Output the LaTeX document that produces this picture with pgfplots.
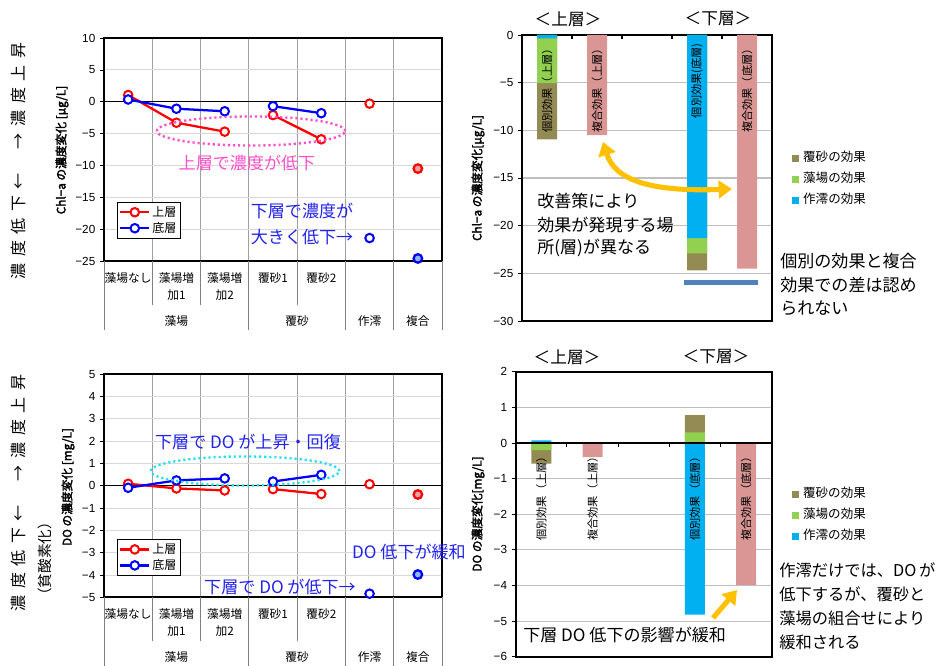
\documentclass[border=0pt]{standalone}
\usepackage{fontspec}
\setmainfont{Noto Sans CJK JP}
\newfontfamily\numfont{Liberation Sans}
\newfontfamily\ylabfont{Noto Sans CJK JP}[FakeBold=2.5]
\usepackage{pgfplots}
\pgfplotsset{compat=1.18}
\usetikzlibrary{arrows.meta}

\definecolor{sand}{HTML}{948A54}
\definecolor{leaf}{HTML}{92D050}
\definecolor{sky}{HTML}{00B0F0}
\definecolor{rose}{HTML}{D99694}
\definecolor{steel}{HTML}{4F81BD}
\definecolor{gold}{HTML}{FFC000}
\definecolor{magtext}{HTML}{FF4FC8}
\definecolor{bluetext}{HTML}{2222EE}
\definecolor{cyandot}{HTML}{22E0F0}
\definecolor{hgrid}{HTML}{D9D9D9}
\definecolor{vgrid}{HTML}{A0A0A0}
\definecolor{bgrid}{HTML}{BFBFBF}
\definecolor{lred}{HTML}{E6A3A3}
\definecolor{lblue}{HTML}{8DB8F0}

\newcommand\annf{\fontsize{12.8}{15}\selectfont}
\newcommand\annfs{\fontsize{12.2}{14}\selectfont}
\newcommand\ylf{\ylabfont\fontsize{8.8}{10.5}\selectfont}
\tikzset{catl/.style={font=\fontsize{8.8}{10}\selectfont, inner sep=0pt},
  barl/.style={rotate=90, anchor=east, font=\fontsize{8.4}{10}\selectfont, inner sep=0pt}}

\pgfplotsset{
  linepanel/.style={
    scale only axis, width=253.5pt, height=167.25pt, clip=false,
    xmin=-0.5, xmax=6.5,
    xtick={0.5,1.5,2.5,3.5,4.5,5.5}, xticklabels={}, xmajorgrids,
    major x grid style={vgrid, line width=0.6pt},
    ymajorgrids, major y grid style={hgrid, line width=0.6pt},
    xtick style={draw=none},
    ytick pos=left, tick align=outside, major tick length=3pt,
    ytick style={black, line width=0.5pt},
    axis line style={line width=1.3pt},
    yticklabel style={font=\numfont\fontsize{8.8}{10}\selectfont},
    legend style={at={(0.038,0.265)}, anchor=north west, draw=black, line width=0.6pt,
      font=\fontsize{9}{10.8}\selectfont, inner sep=1.5pt, nodes={inner sep=1.5pt}},
    legend cell align=left,
    legend image code/.code={\draw[mark repeat=2,mark phase=2] plot coordinates {(0cm,0cm) (0.38cm,0cm) (0.76cm,0cm)};},
  },
  upper/.style={red, line width=1.7pt, mark=*, mark size=3.2pt, mark options={fill=white, line width=1.5pt, solid}},
  lower/.style={blue, line width=1.7pt, mark=*, mark size=3.2pt, mark options={fill=white, line width=1.5pt, solid}},
  barpanel/.style={
    scale only axis, clip=false,
    xmin=-0.5, xmax=4.5, xtick=\empty,
    ymajorgrids, major y grid style={bgrid, line width=0.8pt},
    ytick pos=left, tick align=outside, major tick length=3pt,
    ytick style={black, line width=0.6pt},
    axis line style={line width=1.3pt},
    yticklabel style={font=\numfont\fontsize{8.8}{10}\selectfont},
    ybar, bar width=15pt,
    legend style={anchor=north west, draw=none, fill=none, font=\fontsize{9.4}{11}\selectfont,
      inner sep=0pt, row sep=6.75pt, column sep=3pt,
      nodes={inner sep=0pt, text height=7pt, text depth=2pt}},
    legend cell align=left,
    legend image code/.code={\fill[#1] (0pt,-2.6pt) rectangle (5.2pt,2.6pt);},
  },
}

\newcommand\catgrid{%
  \pgfplotsinvokeforeach{0.142857,0.285714,0.571429}{\draw[black!50, line width=0.6pt] (rel axis cs:##1,0) -- ++(0pt,-33pt);}
  \pgfplotsinvokeforeach{0,0.428571,0.714286,0.857143,1}{\draw[black!50, line width=0.6pt] (rel axis cs:##1,0) -- ++(0pt,-51.75pt);}
}
\newcommand\catlabels{%
  \node[catl, yshift=-12.75pt] at (rel axis cs:0.071429,0) {藻場なし};
  \node[catl, yshift=-12.75pt] at (rel axis cs:0.214286,0) {藻場増};
  \node[catl, yshift=-25.5pt] at (rel axis cs:0.214286,0) {加1};
  \node[catl, yshift=-12.75pt] at (rel axis cs:0.357143,0) {藻場増};
  \node[catl, yshift=-25.5pt] at (rel axis cs:0.357143,0) {加2};
  \node[catl, yshift=-12.75pt] at (rel axis cs:0.5,0) {覆砂1};
  \node[catl, yshift=-12.75pt] at (rel axis cs:0.642857,0) {覆砂2};
  \node[catl, yshift=-45pt] at (rel axis cs:0.214286,0) {藻場};
  \node[catl, yshift=-45pt] at (rel axis cs:0.571429,0) {覆砂};
  \node[catl, yshift=-45pt] at (rel axis cs:0.785714,0) {作澪};
  \node[catl, yshift=-45pt] at (rel axis cs:0.928571,0) {複合};
}

\begin{document}
\begin{tikzpicture}
\path[use as bounding box] (0pt,0pt) rectangle (705pt,-499.5pt);

% ---------------- Panel 1: Chl-a line chart ----------------
\begin{axis}[linepanel, at={(78pt,-28.5pt)}, anchor=north west,
  ymin=-25, ymax=10, ytick={-25,-20,-15,-10,-5,0,5,10},
  yticklabels={−25,−20,−15,−10,−5,0,5,10}]
  \draw[black, line width=0.75pt] (axis cs:-0.5,0) -- (axis cs:6.5,0);
  \catgrid
  \addplot[upper, unbounded coords=jump] coordinates {(0,1.05) (1,-3.3) (2,-4.7) (2.5,nan) (3,-2.1) (4,-5.9)};
  \addlegendentry{上層}
  \addplot[lower, unbounded coords=jump] coordinates {(0,0.35) (1,-1.1) (2,-1.5) (2.5,nan) (3,-0.7) (4,-1.8)};
  \addlegendentry{底層}
  \addplot[upper, only marks, forget plot] coordinates {(5,-0.3)};
  \addplot[upper, only marks, forget plot, mark options={fill=lred}] coordinates {(6,-10.5)};
  \addplot[lower, only marks, forget plot] coordinates {(5,-21.4)};
  \addplot[lower, only marks, forget plot, mark options={fill=lblue}] coordinates {(6,-24.6)};
  \catlabels
\end{axis}

% ---------------- Panel 2: Chl-a bars ----------------
\begin{axis}[barpanel, at={(391.5pt,-26.25pt)}, anchor=north west,
  width=187.5pt, height=214.5pt,
  ymin=-30, ymax=0, ytick={-30,-25,-20,-15,-10,-5,0},
  yticklabels={−30,−25,−20,−15,−10,−5,0},
  legend style={at={(1.08,0.591)}}]
  \addplot[fill=sand, draw=none, bar shift=0pt] coordinates {(0,-10.95) (3,-24.7)};
  \addlegendentry{覆砂の効果}
  \addplot[fill=leaf, draw=none, bar shift=0pt] coordinates {(0,-5.05) (3,-22.9)};
  \addlegendentry{藻場の効果}
  \addplot[fill=sky, draw=none, bar shift=0pt] coordinates {(0,-0.35) (3,-21.3)};
  \addlegendentry{作澪の効果}
  \addplot[fill=rose, draw=none, bar shift=0pt, forget plot] coordinates {(1,-10.5) (4,-24.5)};
  \pgfplotsinvokeforeach{0.5,1.5,2.5,3.5}{\draw[black, line width=0.8pt] (axis cs:#1,0) -- ++(0pt,-3pt);}
  \node[barl] at (axis cs:0,-0.85) {個別効果（上層）};
  \node[barl] at (axis cs:1,-0.85) {複合効果（上層）};
  \node[barl] at (axis cs:3,-0.85) {個別効果(底層)};
  \node[barl] at (axis cs:4,-0.85) {複合効果（底層）};
  \fill[steel] (axis cs:2.74,-25.75) rectangle (axis cs:4.22,-26.22);
\end{axis}

% ---------------- Panel 3: DO line chart ----------------
\begin{axis}[linepanel, at={(78pt,-280.7pt)}, anchor=north west,
  ymin=-5, ymax=5, ytick={-5,-4,-3,-2,-1,0,1,2,3,4,5},
  yticklabels={−5,−4,−3,−2,−1,0,1,2,3,4,5},
  legend style={at={(0.038,0.261)}}]
  \draw[black, line width=0.75pt] (axis cs:-0.5,0) -- (axis cs:6.5,0);
  \catgrid
  \addplot[upper, unbounded coords=jump] coordinates {(0,0.09) (1,-0.12) (2,-0.21) (2.5,nan) (3,-0.15) (4,-0.37)};
  \addlegendentry{上層}
  \addplot[lower, unbounded coords=jump] coordinates {(0,-0.09) (1,0.24) (2,0.33) (2.5,nan) (3,0.19) (4,0.49)};
  \addlegendentry{底層}
  \addplot[upper, only marks, forget plot] coordinates {(5,0.07)};
  \addplot[upper, only marks, forget plot, mark options={fill=lred}] coordinates {(6,-0.39)};
  \addplot[lower, only marks, forget plot] coordinates {(5,-4.84)};
  \addplot[lower, only marks, forget plot, mark options={fill=lblue}] coordinates {(6,-3.98)};
  \catlabels
\end{axis}

% ---------------- Panel 4: DO bars ----------------
\begin{axis}[barpanel, at={(386.8pt,-278.8pt)}, anchor=north west,
  width=192pt, height=213.75pt,
  ymin=-6, ymax=2, ytick={-6,-5,-4,-3,-2,-1,0,1,2},
  yticklabels={−6,−5,−4,−3,−2,−1,0,1,2},
  legend style={at={(1.079,0.592)}}]
  \addplot[fill=sand, draw=none, bar shift=0pt] coordinates {(0,-0.58) (3,0.78)};
  \addlegendentry{覆砂の効果}
  \addplot[fill=leaf, draw=none, bar shift=0pt] coordinates {(0,-0.2) (3,0.3)};
  \addlegendentry{藻場の効果}
  \addplot[fill=sky, draw=none, bar shift=0pt] coordinates {(0,0.07) (3,-4.82)};
  \addlegendentry{作澪の効果}
  \addplot[fill=rose, draw=none, bar shift=0pt, forget plot] coordinates {(1,-0.4) (4,-3.99)};
  \draw[black, line width=1.5pt] (axis cs:-0.5,0) -- (axis cs:4.5,0);
  \pgfplotsinvokeforeach{0.5,1.5,2.5,3.5}{\draw[black, line width=0.8pt] (axis cs:#1,0) -- ++(0pt,-3pt);}
  \node[barl] at (axis cs:0,-0.22) {個別効果（上層）};
  \node[barl] at (axis cs:1,-0.22) {複合効果（上層）};
  \node[barl] at (axis cs:3,-0.22) {個別効果（底層）};
  \node[barl] at (axis cs:4,-0.22) {複合効果（底層）};
\end{axis}

% ---------------- annotations (pixel coordinates) ----------------
\begin{scope}[x=0.75pt, y=-0.75pt]
  % outer labels
  \node[rotate=90, font=\fontsize{12}{14}\selectfont, inner sep=0pt] at (18,161)
    {濃\hspace{4.9pt}度\hspace{4.9pt}低\hspace{4.9pt}下\hspace{4.9pt}←\hspace{18pt}→\hspace{4.9pt}濃\hspace{4.9pt}度\hspace{4.9pt}上\hspace{4.9pt}昇};
  \node[rotate=90, font=\fontsize{12}{14}\selectfont, inner sep=0pt] at (18,493)
    {濃\hspace{4.9pt}度\hspace{4.9pt}低\hspace{4.9pt}下\hspace{4.9pt}←\hspace{18pt}→\hspace{4.9pt}濃\hspace{4.9pt}度\hspace{4.9pt}上\hspace{4.9pt}昇};
  \node[rotate=90, font=\fontsize{11}{13}\selectfont, inner sep=0pt] at (45,559) {（貧酸素化）};
  % y labels
  \node[rotate=90, font=\ylf, inner sep=0pt] at (62,150) {Chl−a の濃度変化 [μg/L]};
  \node[rotate=90, font=\ylf, inner sep=0pt] at (478,178) {Chl−a の濃度変化[μg/L]};
  \node[rotate=90, font=\ylf, inner sep=0pt] at (68,487) {DO の濃度変化 [mg/L]};
  \node[rotate=90, font=\ylf, inner sep=0pt] at (478,514) {DO の濃度変化[mg/L]};
  % panel 1
  \draw[magtext, line width=1.8pt, dash pattern=on 1.6pt off 2.2pt] (251,131) ellipse [x radius=70.6pt, y radius=10.9pt];
  \node[text=magtext, font=\annf] at (247,163) {上層で濃度が低下};
  \node[text=bluetext, font=\annf] at (302,211) {下層で濃度が};
  \node[text=bluetext, font=\annf] at (302,237) {大きく低下→};
  % panel 2
  \node[font=\fontsize{12.5}{15}\selectfont] at (568,19) {＜上層＞};
  \node[font=\fontsize{12.5}{15}\selectfont] at (718,19) {＜下層＞};
  \node[font=\annf, anchor=west, inner sep=0pt] at (537,201) {改善策により};
  \node[font=\annf, anchor=west, inner sep=0pt] at (537,225) {効果が発現する場};
  \node[font=\annf, anchor=west, inner sep=0pt] at (537,248) {所(層)が異なる};
  \node[font=\annf, anchor=west, inner sep=0pt] at (780,261) {個別の効果と複合};
  \node[font=\annf, anchor=west, inner sep=0pt] at (780,285) {効果での差は認め};
  \node[font=\annf, anchor=west, inner sep=0pt] at (780,308) {られない};
  \draw[gold, line width=3.8pt, {Triangle[width=13pt,length=10pt]}-{Triangle[width=13pt,length=10pt]}]
    (603,142) .. controls (615,180) and (650,192) .. (732,189);
  % panel 3
  \draw[cyandot, line width=1.8pt, dash pattern=on 1.6pt off 2.2pt] (245,471) ellipse [x radius=70.7pt, y radius=10.9pt];
  \node[text=bluetext, font=\annf] at (248,442) {下層で DO が上昇・回復};
  \node[text=bluetext, font=\annf] at (409,552) {DO 低下が緩和};
  \node[text=bluetext, font=\annf] at (280,587) {下層で DO が低下→};
  % panel 4
  \node[font=\fontsize{12.5}{15}\selectfont] at (567,357) {＜上層＞};
  \node[font=\fontsize{12.5}{15}\selectfont] at (716,357) {＜下層＞};
  \node[font=\annfs, anchor=west, inner sep=0pt] at (779,570) {作澪だけでは、DO\hspace{2pt}が};
  \node[font=\annfs, anchor=west, inner sep=0pt] at (779,594) {低下するが、覆砂と};
  \node[font=\annfs, anchor=west, inner sep=0pt] at (779,618) {藻場の組合せにより};
  \node[font=\annfs, anchor=west, inner sep=0pt] at (779,642) {緩和される};
  \node[font=\annf, anchor=west, inner sep=0pt] at (523,635) {下層 DO 低下の影響が緩和};
  \draw[gold, line width=3.8pt, -{Triangle[width=13pt,length=10pt]}] (713,618) -- (737,590);
\end{scope}
\end{tikzpicture}
\end{document}
